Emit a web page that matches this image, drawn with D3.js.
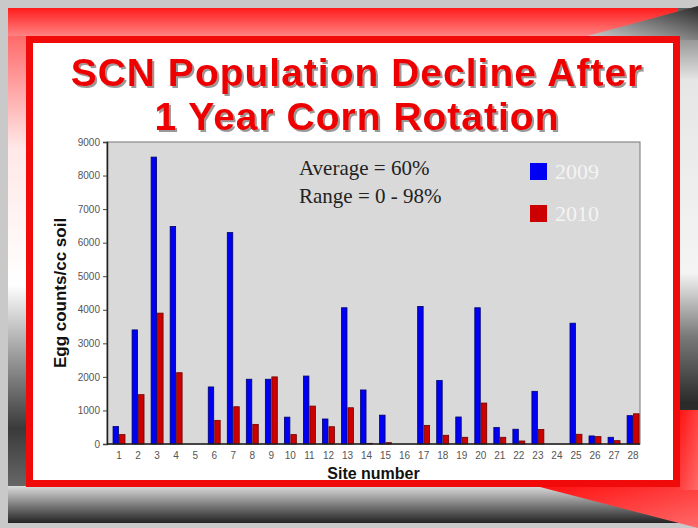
<!DOCTYPE html>
<html><head><meta charset="utf-8">
<script src="https://cdn.jsdelivr.net/npm/d3@7"></script>
<style>body{margin:0;padding:0;background:#fff;}svg{display:block;}</style>
</head><body>
<script>
const sites = ["1","2","3","4","5","6","7","8","9","10","11","12","13","14","15","16","17","18","19","20","21","22","23","24","25","26","27","28"];
const values2009 = [520,3400,8550,6480,0,1700,6300,1930,1930,800,2025,745,4060,1610,860,0,4100,1890,805,4060,490,440,1570,0,3600,240,200,845];
const values2010 = [280,1470,3900,2125,0,705,1110,585,2000,280,1130,515,1080,20,40,0,555,260,200,1220,200,90,430,0,290,220,100,900];
const seriesNames = ["2009","2010"];
const yTicks = [0,1000,2000,3000,4000,5000,6000,7000,8000,9000];
const titleLines = ["SCN Population Decline After","1 Year Corn Rotation"];
const notes = ["Average = 60%","Range = 0 - 98%"];

const W = 698, H = 528;
const svg = d3.select("body").append("svg").attr("width", W).attr("height", H);
const defs = svg.append("defs");
function lin(id, x1, y1, x2, y2, stops) {
  const g = defs.append("linearGradient").attr("id", id)
    .attr("x1", x1).attr("y1", y1).attr("x2", x2).attr("y2", y2);
  stops.forEach(s => g.append("stop").attr("offset", s[0]).attr("stop-color", s[1]));
}
lin("gTop", 0, 0, 0, 1, [[0, "#ff1c1c"], [1, "#ff8a8a"]]);
lin("gLeftTop", 0, 0, 0, 1, [[0, "#ff6a6a"], [0.45, "#ffe8e8"], [1, "#ffffff"]]);
lin("gLeftBot", 0, 0, 0, 1, [[0, "#ffffff"], [0.35, "#9a9a9a"], [0.7, "#3a3a3a"], [1, "#6a6a6a"]]);
lin("gTR", 1, 0, 0, 1, [[0, "#2a2a2a"], [1, "#d8d8d8"]]);
lin("gRight", 0, 0, 0, 1, [[0, "#5a5a5a"], [0.15, "#e6e6e6"], [0.55, "#f4f4f4"], [0.68, "#7a7a7a"], [0.82, "#2a2a2a"], [1, "#444"]]);
lin("gBot", 0, 0, 0, 1, [[0, "#dcdcdc"], [1, "#222222"]]);
lin("gRed", 0, 0, 1, 1, [[0, "#ff1010"], [1, "#ff6a6a"]]);
const f = defs.append("filter").attr("id", "shadow").attr("x", "-5%").attr("y", "-20%").attr("width", "110%").attr("height", "140%");
f.append("feDropShadow").attr("dx", 2).attr("dy", 2).attr("stdDeviation", 0.6)
  .attr("flood-color", "#555").attr("flood-opacity", 0.6);

// slide background
svg.append("rect").attr("width", W).attr("height", H).attr("fill", "#c9c9c9");
svg.append("rect").attr("x", 8).attr("y", 8).attr("width", W - 8).attr("height", 515).attr("fill", "#ffffff");
svg.append("rect").attr("x", 8).attr("y", 8).attr("width", W - 8).attr("height", 30).attr("fill", "url(#gTop)");
svg.append("rect").attr("x", 8).attr("y", 36).attr("width", 20).attr("height", 250).attr("fill", "url(#gLeftTop)");
svg.append("rect").attr("x", 8).attr("y", 285).attr("width", 20).attr("height", 205).attr("fill", "url(#gLeftBot)");
svg.append("rect").attr("x", 678).attr("y", 8).attr("width", 20).attr("height", 482).attr("fill", "url(#gRight)");
svg.append("polygon").attr("points", "580,38 698,6 698,40 678,40").attr("fill", "url(#gTR)");
svg.append("rect").attr("x", 8).attr("y", 486).attr("width", W - 8).attr("height", 37).attr("fill", "url(#gBot)");
svg.append("polygon").attr("points", "540,487 698,487 698,528").attr("fill", "url(#gRed)");
svg.append("rect").attr("x", 678).attr("y", 410).attr("width", 20).attr("height", 80).attr("fill", "url(#gRed)");

// white panel
svg.append("rect").attr("x", 29.5).attr("y", 39.5).attr("width", 647).attr("height", 444)
  .attr("fill", "#ffffff").attr("stroke", "#f00a0a").attr("stroke-width", 7);

// title
const tFont = "'Liberation Sans', Arial, sans-serif";
titleLines.forEach((t, i) => {
  svg.append("text").attr("x", 357).attr("y", 86 + i * 44).attr("text-anchor", "middle")
    .attr("font-family", tFont).attr("font-weight", "bold").attr("font-size", 39)
    .attr("letter-spacing", 1)
    .attr("fill", "#ee0000").attr("filter", "url(#shadow)").text(t);
});

// chart
const L = 107, R = 640, T = 142, B = 444;
const x = d3.scaleBand().domain(sites).range([109.5, 642.6]).paddingInner(0.32).paddingOuter(0.16);
const xs = d3.scaleBand().domain(seriesNames).range([0, x.bandwidth()]);
const y = d3.scaleLinear().domain([0, 9000]).range([B, T]);
const color = d3.scaleOrdinal().domain(seriesNames).range(["#0000f2", "#cc0000"]);
const stroke = d3.scaleOrdinal().domain(seriesNames).range(["#00006a", "#6a0000"]);

svg.append("rect").attr("x", L).attr("y", T).attr("width", R - L).attr("height", B - T)
  .attr("fill", "#d9d9d9").attr("stroke", "#777").attr("stroke-width", 1);

const rows = sites.map((s, i) => ({ site: s, vals: [values2009[i], values2010[i]] }));
const g = svg.append("g");
rows.forEach(r => {
  seriesNames.forEach((sn, k) => {
    const v = r.vals[k];
    if (v <= 0) return;
    g.append("rect")
      .attr("x", x(r.site) + xs(sn) + 0.5)
      .attr("y", y(v))
      .attr("width", xs.bandwidth() - 1)
      .attr("height", B - y(v))
      .attr("fill", color(sn)).attr("stroke", stroke(sn)).attr("stroke-width", 0.8);
  });
});

// axes
const yAxis = d3.axisLeft(y).tickValues(yTicks).tickFormat(d3.format("d")).tickSize(4).tickPadding(3);
const ya = svg.append("g").attr("transform", `translate(${L},0)`).call(yAxis);
ya.select(".domain").attr("stroke", "#222").attr("stroke-width", 1.5);
ya.selectAll(".tick line").attr("stroke", "#444");
ya.selectAll(".tick text").attr("font-family", tFont).attr("font-size", 10).attr("fill", "#555");

const xAxis = d3.axisBottom(x).tickSize(0).tickPadding(8);
const xa = svg.append("g").attr("transform", `translate(0,${B})`).call(xAxis);
xa.select(".domain").attr("d", `M${L},0H${R}`).attr("stroke", "#222").attr("stroke-width", 1.5);
xa.selectAll(".tick text").attr("font-family", tFont).attr("font-size", 10).attr("fill", "#555");

svg.append("text").attr("x", (L + R) / 2).attr("y", 479).attr("text-anchor", "middle")
  .attr("font-family", tFont).attr("font-weight", "bold").attr("font-size", 16).attr("fill", "#111")
  .text("Site number");
svg.append("text").attr("transform", `translate(66,${(T + B) / 2}) rotate(-90)`).attr("text-anchor", "middle")
  .attr("font-family", tFont).attr("font-weight", "bold").attr("font-size", 17).attr("fill", "#111")
  .text("Egg counts/cc soil");

// notes
const sFont = "'Liberation Serif', 'Times New Roman', serif";
notes.forEach((t, i) => {
  svg.append("text").attr("x", 299).attr("y", 175 + i * 28)
    .attr("font-family", sFont).attr("font-size", 21).attr("fill", "#222").text(t);
});

// legend
seriesNames.forEach((sn, i) => {
  const ly = 163 + i * 42;
  svg.append("rect").attr("x", 530).attr("y", ly).attr("width", 17).attr("height", 17)
    .attr("fill", color(sn));
  svg.append("text").attr("x", 555).attr("y", ly + 16)
    .attr("font-family", sFont).attr("font-size", 22).attr("fill", "#f4f4f4").text(sn);
});
</script>
</body></html>
